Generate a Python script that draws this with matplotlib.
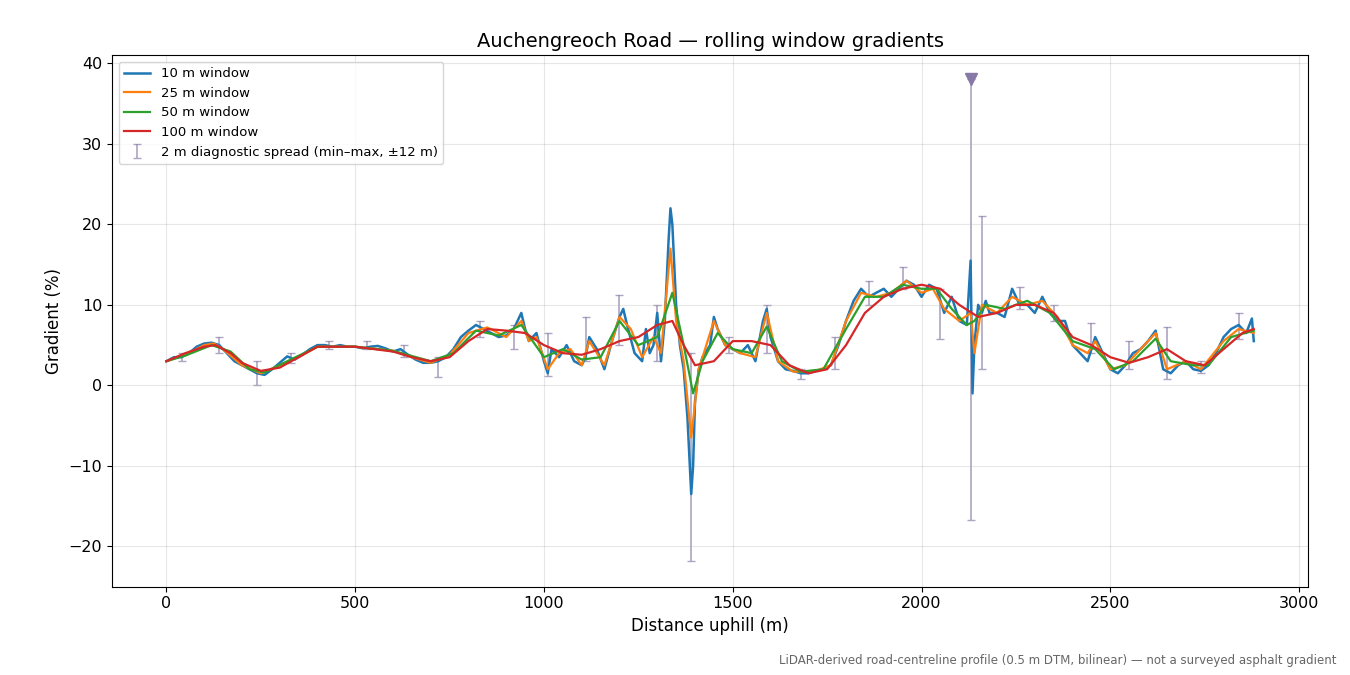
import matplotlib
matplotlib.use("Agg")
import matplotlib.pyplot as plt

b_x=[0,20,40,60,80,100,120,140,160,180,200,220,240,260,280,300,320,340,360,380,400,420,440,460,480,500,520,540,560,580,600,620,640,660,680,700,720,740,760,780,800,820,840,860,880,900,920,940,950,960,980,1000,1010,1020,1040,1060,1080,1100,1110,1120,1140,1160,1180,1200,1210,1220,1240,1260,1270,1280,1290,1300,1310,1320,1330,1335,1340,1350,1360,1370,1380,1390,1395,1400,1410,1420,1440,1450,1460,1480,1500,1520,1540,1560,1580,1590,1600,1620,1640,1660,1680,1700,1720,1740,1760,1780,1800,1820,1840,1860,1880,1900,1920,1940,1960,1980,2000,2020,2040,2060,2080,2100,2120,2130,2135,2140,2150,2160,2170,2180,2200,2220,2240,2260,2280,2300,2320,2340,2360,2380,2400,2420,2440,2460,2480,2500,2520,2540,2560,2580,2600,2620,2640,2660,2680,2700,2720,2740,2760,2780,2800,2820,2840,2860,2875,2880]
b_y=[3,3.5,3.5,4,4.8,5.2,5.3,5,4,3,2.5,2,1.5,1.3,2,2.8,3.6,3.2,3.8,4.5,5,5,4.8,5,4.8,4.8,4.6,4.8,4.9,4.6,4.2,4.5,3.8,3.2,2.8,2.8,3,3.5,4.5,6,6.8,7.5,7,6.5,6,6.2,7,9,7,5.5,6.5,3,1.5,4.5,3.5,5,3,2.5,3.5,6,4.5,2,5.5,8.5,9.5,7.5,4,3,7,4,5,9,3,8,18,22,20,10,5,2,-4,-13.5,-10,-2,2,3.5,5,8.5,7,5,4.5,4,5,3,8,9.5,6,3,2,1.8,1.5,1.5,1.8,2,2.5,5,8,10.5,12,11,11.5,12,11,12,13,12.5,11,12.5,12,9,11,8,7.5,15.5,-1,5,10,9,10.5,9,9,8.5,12,10,10,9,11,9,8,8,5,4,3,6,4,2,1.5,2.5,4,4.5,5.5,6.8,2,1.5,2.5,3,2,1.8,2.5,4,6,7,7.5,6.5,8.3,5.5]

o_x=[0,50,100,125,150,200,250,300,350,400,500,600,650,700,750,800,850,900,940,960,980,1010,1040,1070,1100,1120,1160,1200,1230,1260,1290,1310,1335,1350,1370,1390,1410,1450,1480,1520,1560,1590,1620,1660,1720,1760,1800,1840,1880,1920,1960,2000,2030,2060,2100,2130,2140,2160,2200,2240,2280,2320,2360,2400,2440,2460,2500,2540,2620,2650,2700,2740,2800,2840,2880]
o_y=[3,3.8,5,5.2,4.5,2.5,1.5,2.5,3.5,4.8,4.8,4.3,3.5,2.8,3.8,6.5,7.2,6,8,5.5,6,2,4,4.5,2.5,5.5,2.5,8.5,7,3.5,6,4,17,8,3,-6.5,2,8,5,4,3.5,9,3,1.7,1.8,2.5,8,11.5,11,11.5,13,11.5,12,9.5,8,9,4,10,9,11,10,10.5,8.5,5,4,5.5,2,2.5,6.5,2,3,2,5.5,7,6.5]

g_x=[0,50,120,170,220,260,320,400,500,600,700,760,820,880,940,1000,1050,1100,1150,1200,1250,1300,1340,1370,1395,1420,1460,1500,1550,1590,1630,1680,1740,1800,1850,1900,1950,2000,2040,2080,2120,2140,2170,2220,2280,2340,2400,2460,2510,2560,2620,2660,2720,2760,2820,2880]
g_y=[3,3.7,5,4.2,2,1.6,3,4.8,4.8,4.3,3,4,6.8,6.2,7.5,3.5,4.5,3.2,3.5,8,5,6,11.5,5,-1,3,6.5,4.5,4,7.3,3,1.7,2,7,11,11,12.5,12,12,9.5,7.5,8,10,9.5,10.5,9,5.5,4.5,2,3,5.8,3,2.5,2.5,6,6.8]

r_x=[0,50,100,130,170,200,250,300,350,400,500,600,650,700,750,800,850,900,950,1000,1050,1100,1150,1200,1250,1300,1340,1370,1400,1450,1500,1550,1600,1650,1700,1750,1800,1850,1900,1950,2000,2050,2100,2150,2200,2250,2300,2350,2400,2450,2500,2550,2600,2650,2700,2750,2800,2850,2880]
r_y=[3,4,4.8,5,4,2.8,1.8,2.2,3.5,4.8,4.8,4.2,3.5,3,3.5,5.5,7,6.8,6.5,5,4,3.8,4.5,5.5,6,7.5,8,5,2.5,3,5.5,5.5,5,2.5,1.5,2,5,9,11,12,12.5,12,10,8.5,9,10,10,9,6,5,3.5,2.8,3.5,4.5,3,2.5,4.5,6.5,7]

e_x=[40,140,240,330,430,530,630,720,830,920,1010,1110,1200,1300,1390,1490,1590,1680,1770,1860,1950,2050,2130,2160,2260,2350,2450,2550,2650,2740,2840]
e_lo=[3,4,0,2.8,4.5,4.5,3.5,1,6,4.5,1.2,3,5,3,-21.8,4,4,0.8,2,10,12,5.8,-16.7,2,9.5,8,4,2,0.8,1.5,5.8]
e_hi=[4,6,3,4,5.5,5.5,5,3.5,8,7.5,6.5,8.5,11.2,10,4,6,10,2,6,13,14.7,12,38,21,12.2,10,7.7,5.5,7.2,3,9]
e_mid=[(a+b)/2 for a,b in zip(e_lo,e_hi)]
clip_x=[2130]; clip_y=[38]

fig, ax = plt.subplots(figsize=(13.5,6.75), dpi=100)
fig.subplots_adjust(left=0.083, right=0.969, top=0.918, bottom=0.131)
ec='#8c7fa8'
ax.errorbar(e_x, e_mid, yerr=[[m-l for m,l in zip(e_mid,e_lo)],[h-m for m,h in zip(e_mid,e_hi)]],
            fmt='none', ecolor=ec, alpha=0.7, capsize=3, lw=1.2, zorder=1,
            label='2 m diagnostic spread (min–max, ±12 m)')
ax.plot(clip_x, clip_y, marker='v', color='#8878a8', ms=9, ls='none', zorder=5)
ax.plot(b_x,b_y,color='#1f77b4',lw=1.8,label='10 m window',zorder=2)
ax.plot(o_x,o_y,color='#ff7f0e',lw=1.6,label='25 m window',zorder=3)
ax.plot(g_x,g_y,color='#2ca02c',lw=1.6,label='50 m window',zorder=4)
ax.plot(r_x,r_y,color='#d62728',lw=1.6,label='100 m window',zorder=5)
ax.legend(loc='upper left', fontsize=9.5)
ax.set_xlim(-144,3024)
ax.set_ylim(-25,41)
ax.grid(True, alpha=0.3)
ax.tick_params(labelsize=11.5)
ax.set_xlabel('Distance uphill (m)', fontsize=12)
ax.set_ylabel('Gradient (%)', fontsize=12)
ax.set_title('Auchengreoch Road — rolling window gradients', fontsize=14)
fig.text(0.99, 0.012, 'LiDAR-derived road-centreline profile (0.5 m DTM, bilinear) — not a surveyed asphalt gradient',
         ha='right', va='bottom', fontsize=8.5, color='#666666')
fig.savefig('out.png')
